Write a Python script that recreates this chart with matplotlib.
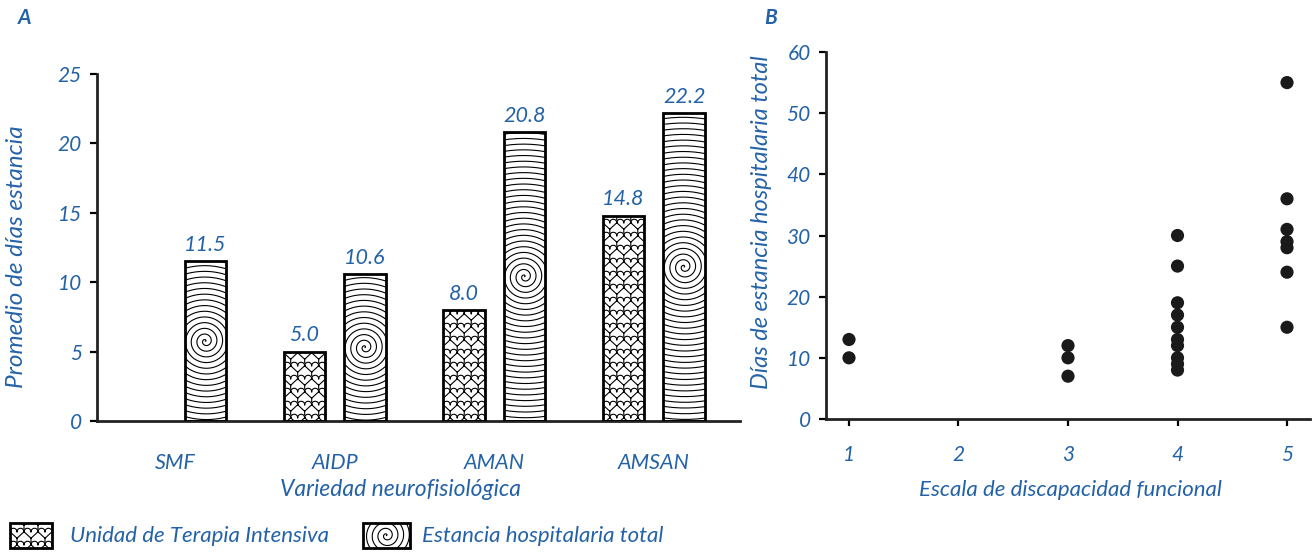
import numpy as np
import matplotlib.pyplot as plt
from matplotlib.patches import Rectangle

blue = '#2462a8'
plt.rcParams['font.family'] = ['Lato', 'DejaVu Sans']
plt.rcParams['font.style'] = 'italic'

# promedio de dias por variedad
grupos = ['SMF', 'AIDP', 'AMAN', 'AMSAN']
uti = [0.0, 5.0, 8.0, 14.8]       # SMF sin estancia en UTI
total = [11.5, 10.6, 20.8, 22.2]

# dispersion escala funcional vs dias totales
escala = [1, 1,
          3, 3, 3,
          4, 4, 4, 4, 4, 4, 4, 4, 4, 4,
          5, 5, 5, 5, 5, 5, 5]
dias = [13, 10,
        12, 10, 7,
        30, 25, 19, 17, 15, 13, 12, 10, 9, 8,
        55, 36, 31, 29, 28, 24, 15]


def px_per_unit(ax):
    p0 = ax.transData.transform((0, 0))
    p1 = ax.transData.transform((1, 1))
    return p1[0] - p0[0], p1[1] - p0[1]


def spiral_fill(ax, patch, step=5.7):
    x0, y0 = patch.get_x(), patch.get_y()
    w, h = patch.get_width(), patch.get_height()
    sx, sy = px_per_unit(ax)
    cx, cy = x0 + w / 2, y0 + h / 2
    rmax = np.hypot(w * sx, h * sy) / 2 + step
    th = np.linspace(0, 2 * np.pi * rmax / step, int(rmax / step * 120))
    r = step * th / (2 * np.pi)
    ln, = ax.plot(cx + r * np.cos(th) / sx, cy + r * np.sin(th) / sy,
                  color='k', lw=0.8, zorder=2)
    ln.set_clip_path(patch)


def tile_fill(ax, patch, cw=14.0, ch=13.0):
    x0, y0 = patch.get_x(), patch.get_y()
    w, h = patch.get_width(), patch.get_height()
    sx, sy = px_per_unit(ax)
    wpx, hpx = w * sx, h * sy
    xs, ys = [], []
    a = np.linspace(0, np.pi, 12)
    nrow = int(hpx / ch) + 2
    ncol = int(wpx / cw) + 2
    for i in range(-1, nrow):
        off = cw / 2 if i % 2 else 0
        for j in range(-1, ncol):
            cx = j * cw + off
            cy = i * ch
            # two lobes on top, pointed base
            for dx in (-cw / 4, cw / 4):
                xs += list(cx + dx + cw / 4 * np.cos(a)) + [np.nan]
                ys += list(cy + ch / 4 + cw / 4 * np.sin(a)) + [np.nan]
            xs += [cx - cw / 2, cx, cx + cw / 2, np.nan, cx, cx, np.nan]
            ys += [cy + ch / 4, cy - ch / 4, cy + ch / 4, np.nan,
                   cy - ch / 4, cy - ch / 2, np.nan]
    xs = x0 + np.array(xs) / sx
    ys = y0 + np.array(ys) / sy
    ln, = ax.plot(xs, ys, color='k', lw=0.8, zorder=2)
    ln.set_clip_path(patch)


fig = plt.figure(figsize=(13.14, 5.53), dpi=100)
W, H = 1314, 553

# ---- A: barras ----
ax = fig.add_axes([97 / W, 1 - 421 / H, (740 - 97) / W, (421 - 74) / H])
ax.set_xlim(-0.49, 3.54)
ax.set_ylim(0, 25)
pos = np.arange(len(grupos))
bw, off = 0.26, 0.19

b1 = ax.bar(pos[1:] - off, uti[1:], bw, color='white', edgecolor='none', zorder=1)
b2 = ax.bar(pos + off, total, bw, color='white', edgecolor='none', zorder=1)
for p in b1:
    tile_fill(ax, p)
for p in b2:
    spiral_fill(ax, p)
ax.bar(pos[1:] - off, uti[1:], bw, fill=False, edgecolor='k', lw=2, zorder=3)
ax.bar(pos + off, total, bw, fill=False, edgecolor='k', lw=2, zorder=3)

for x, v in zip(pos[1:] - off, uti[1:]):
    ax.text(x, v + 0.45, f'{v:.1f}', ha='center', va='bottom', color=blue, fontsize=15.5)
for x, v in zip(pos + off, total):
    ax.text(x, v + 0.45, f'{v:.1f}', ha='center', va='bottom', color=blue, fontsize=15.5)

ax.set_yticks(range(0, 26, 5))
ax.set_xticks(pos)
ax.set_xticklabels(grupos)
ax.tick_params(axis='y', direction='out', length=5, width=1.6, colors='k',
               labelcolor=blue, labelsize=15, pad=6)
ax.tick_params(axis='x', length=0, labelcolor=blue, labelsize=15.5, pad=23)
for s in ['top', 'right']:
    ax.spines[s].set_visible(False)
for s in ['left', 'bottom']:
    ax.spines[s].set_linewidth(2)
    ax.spines[s].set_color('#222222')

fig.text(400 / W, 1 - 490 / H, 'Variedad neurofisiológica', ha='center', va='center',
         color=blue, fontsize=16.5)
fig.text(17 / W, 1 - 257 / H, 'Promedio de días estancia', ha='center', va='center',
         rotation=90, color=blue, fontsize=17.5)
fig.text(18 / W, 1 - 18 / H, 'A', ha='left', va='center', color=blue,
         fontsize=15, fontweight='bold')

# ---- B: dispersion ----
ax2 = fig.add_axes([826 / W, 1 - 419 / H, (1310 - 826) / W, (419 - 52) / H])
ax2.set_xlim(0.79, 5.21)
ax2.set_ylim(0, 60)
ax2.scatter(escala, dias, s=90, color='#1a1a1a', edgecolors='none', zorder=3,
            clip_on=False)
ax2.set_xticks([1, 2, 3, 4, 5])
ax2.set_yticks(range(0, 61, 10))
ax2.tick_params(direction='out', length=5, width=1.6, colors='k',
                labelcolor=blue, labelsize=15)
ax2.tick_params(axis='x', pad=14)
ax2.tick_params(axis='y', pad=6)
for s in ['top', 'right']:
    ax2.spines[s].set_visible(False)
for s in ['left', 'bottom']:
    ax2.spines[s].set_linewidth(2)
    ax2.spines[s].set_color('#222222')

fig.text(1070 / W, 1 - 490 / H, 'Escala de discapacidad funcional', ha='center',
         va='center', color=blue, fontsize=16)
fig.text(762 / W, 1 - 222 / H, 'Días de estancia hospitalaria total', ha='center',
         va='center', rotation=90, color=blue, fontsize=17)
fig.text(764 / W, 1 - 18 / H, 'B', ha='left', va='center', color=blue,
         fontsize=15, fontweight='bold')

# ---- leyenda ----
for (x0, x1), fill, label, tx in [((10, 52), tile_fill, 'Unidad de Terapia Intensiva', 70),
                                  ((363, 410), spiral_fill, 'Estancia hospitalaria total', 422)]:
    lax = fig.add_axes([x0 / W, 1 - 548 / H, (x1 - x0) / W, 25 / H])
    lax.set_xlim(0, 1)
    lax.set_ylim(0, 1)
    lax.axis('off')
    r = Rectangle((0, 0), 1, 1, facecolor='white', edgecolor='none')
    lax.add_patch(r)
    fill(lax, r)
    lax.add_patch(Rectangle((0, 0), 1, 1, fill=False, edgecolor='k', lw=2,
                            zorder=3, clip_on=False))
    fig.text(tx / W, 1 - 536 / H, label, ha='left', va='center', color=blue, fontsize=16)

fig.savefig('out.png', dpi=100)
